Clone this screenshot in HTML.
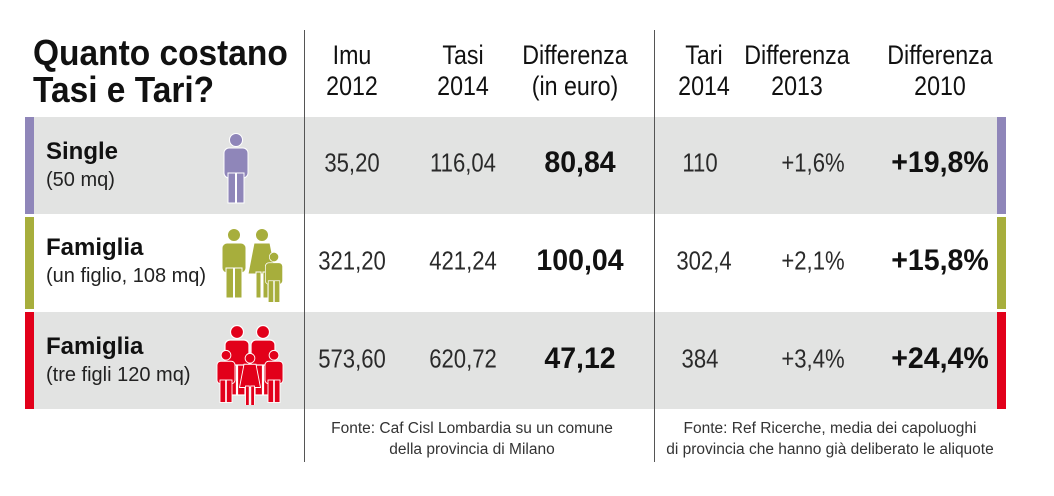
<!DOCTYPE html>
<html><head><meta charset="utf-8"><style>
body{margin:0;width:1054px;height:496px;background:#fff;position:relative;overflow:hidden;font-family:"Liberation Sans",sans-serif;color:#1a1a1a}
.a{position:absolute}
.h{position:absolute;top:40px;font-size:27px;line-height:31px;text-align:center;transform:translateX(-50%) scaleX(0.86);white-space:nowrap;color:#111}
.v{position:absolute;font-size:26px;transform:translate(-50%,-50%) scaleX(0.85);white-space:nowrap;color:#2a2a2a}
.b{font-weight:bold;font-size:30px;color:#111;transform:translate(-50%,-50%) scaleX(0.95)}
.row{position:absolute;left:34px;width:963px}
.lab{position:absolute;left:46px;font-size:20px;line-height:27px;color:#222;transform-origin:0 0}
.lab b{font-size:24px;color:#111}
.f{position:absolute;top:418px;font-size:15.5px;line-height:21px;text-align:center;transform:translateX(-50%);white-space:nowrap;color:#333}
</style></head><body>
<div class="a" style="left:33px;top:34px;font-size:36px;line-height:37px;font-weight:bold;color:#111;transform:scaleX(0.93);transform-origin:0 0">Quanto costano<br>Tasi e Tari?</div>
<div class="h" style="left:352px">Imu<br>2012</div>
<div class="h" style="left:463px">Tasi<br>2014</div>
<div class="h" style="left:575px">Differenza<br>(in euro)</div>
<div class="h" style="left:704px">Tari<br>2014</div>
<div class="h" style="left:797px">Differenza<br>2013</div>
<div class="h" style="left:940px">Differenza<br>2010</div>

<div class="row" style="top:117px;height:97px;background:#e2e3e2"></div>
<div class="row" style="top:312px;height:97px;background:#e2e3e2"></div>
<div class="a" style="left:25px;top:117px;width:9px;height:97px;background:#8f86b9"></div>
<div class="a" style="left:25px;top:217px;width:9px;height:92px;background:#a7ae3c"></div>
<div class="a" style="left:25px;top:312px;width:9px;height:97px;background:#e2001a"></div>
<div class="a" style="left:997px;top:117px;width:9px;height:97px;background:#8f86b9"></div>
<div class="a" style="left:997px;top:217px;width:9px;height:92px;background:#a7ae3c"></div>
<div class="a" style="left:997px;top:312px;width:9px;height:97px;background:#e2001a"></div>
<div class="a" style="left:304px;top:30px;width:1px;height:432px;background:#555"></div>
<div class="a" style="left:654px;top:30px;width:1px;height:432px;background:#555"></div>

<div class="lab" style="top:138px"><b>Single</b><br>(50 mq)</div>
<div class="lab" style="top:234px"><b>Famiglia</b><br>(un figlio, 108 mq)</div>
<div class="lab" style="top:333px"><b>Famiglia</b><br>(tre figli 120 mq)</div>

<svg class="a" style="left:210px;top:125px" width="90" height="280" viewBox="0 0 90 280">
<defs><g id="m"><circle cx="0" cy="-25" r="6.5"/><rect x="-12" y="-17" width="24" height="30" rx="5"/><rect x="-8" y="8" width="7.5" height="30"/><rect x="0.5" y="8" width="7.5" height="30"/></g>
<g id="w"><circle cx="0" cy="-25" r="6.5"/><path d="M-8,-17 H8 L14,14 H-14Z"/><rect x="-6" y="12" width="5" height="26"/><rect x="1" y="12" width="5" height="26"/></g></defs>
<g fill="#8f86b9" stroke="#fff" stroke-width="1"><use href="#m" transform="translate(26,40)"/></g>
<g fill="#a7ae3c" stroke="#fff" stroke-width="1"><use href="#m" transform="translate(24,135)"/><use href="#w" transform="translate(52,135)"/><use href="#m" transform="translate(64,150) scale(0.72)"/></g>
<g fill="#e2001a" stroke="#fff" stroke-width="1.2"><use href="#m" transform="translate(27,232)"/><use href="#m" transform="translate(53,232)"/><use href="#m" transform="translate(16,249) scale(0.75)"/><use href="#w" transform="translate(40,252) scale(0.75)"/><use href="#m" transform="translate(64,249) scale(0.75)"/></g>
</svg>

<div class="v" style="left:352px;top:163px">35,20</div>
<div class="v" style="left:463px;top:163px">116,04</div>
<div class="v b" style="left:580px;top:163px">80,84</div>
<div class="v" style="left:700px;top:163px">110</div>
<div class="v" style="left:813px;top:163px">+1,6%</div>
<div class="v b" style="left:940px;top:163px">+19,8%</div>

<div class="v" style="left:352px;top:261px">321,20</div>
<div class="v" style="left:463px;top:261px">421,24</div>
<div class="v b" style="left:580px;top:261px">100,04</div>
<div class="v" style="left:704px;top:261px">302,4</div>
<div class="v" style="left:813px;top:261px">+2,1%</div>
<div class="v b" style="left:940px;top:261px">+15,8%</div>

<div class="v" style="left:352px;top:359px">573,60</div>
<div class="v" style="left:463px;top:359px">620,72</div>
<div class="v b" style="left:580px;top:359px">47,12</div>
<div class="v" style="left:700px;top:359px">384</div>
<div class="v" style="left:813px;top:359px">+3,4%</div>
<div class="v b" style="left:940px;top:359px">+24,4%</div>

<div class="f" style="left:472px">Fonte: Caf Cisl Lombardia su un comune<br>della provincia di Milano</div>
<div class="f" style="left:830px">Fonte: Ref Ricerche, media dei capoluoghi<br>di provincia che hanno già deliberato le aliquote</div>
</body></html>
